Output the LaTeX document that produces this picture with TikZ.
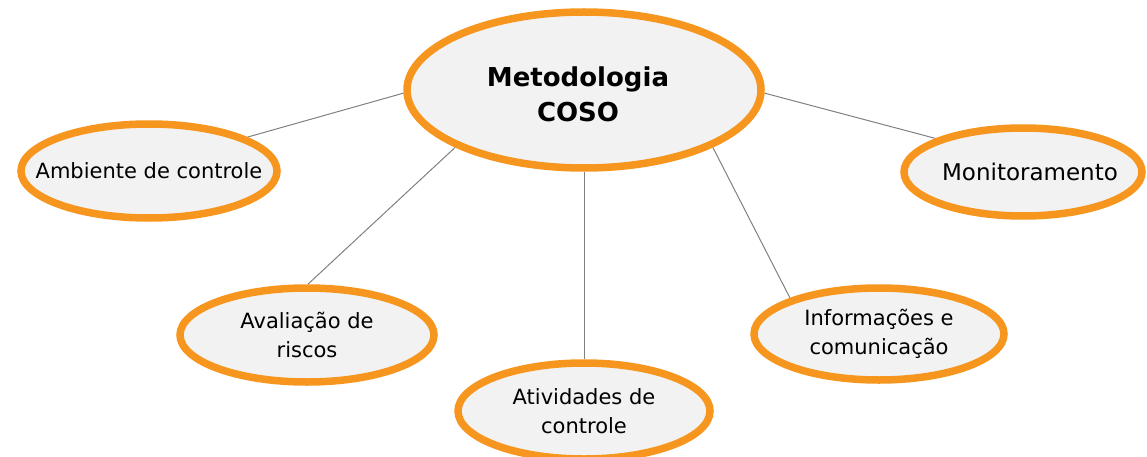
\documentclass[tikz,border=0pt]{standalone}
\usepackage{fontspec}
\setmainfont{DejaVu Sans}
\usetikzlibrary{shapes.geometric}
\pgfdeclarelayer{background}
\pgfsetlayers{background,main}
\definecolor{cosoorange}{HTML}{F7961E}
\definecolor{cosofill}{HTML}{F2F2F2}
\definecolor{cosoline}{HTML}{808080}
\tikzset{
  oval/.style={ellipse, draw=cosoorange, fill=cosofill, line width=7.5pt, inner xsep=-60pt, inner ysep=-25pt,
    align=center, text=black, font=\fontsize{21}{29}\selectfont},
  mainoval/.style={oval, font=\fontsize{26}{35}\selectfont\bfseries},
  link/.style={draw=cosoline, line width=1pt}
}
\begin{document}
\begin{tikzpicture}[x=1pt,y=-1pt]
\useasboundingbox (0,0) rectangle (1147,457);
\node[mainoval, minimum width=354pt, minimum height=156pt] (main) at (584,90) {\rule{0pt}{28pt}Metodologia\kern12pt\\COSO\kern12pt};
\node[oval, minimum width=256pt, minimum height=94pt] (amb) at (149,171) {Ambiente de controle};
\node[oval, minimum width=238pt, minimum height=88pt, font=\fontsize{23}{29}\selectfont] (mon) at (1023,172) {\kern14pt Monitoramento};
\node[oval, minimum width=254pt, minimum height=94pt] (ava) at (307,335) {Avaliação de\\riscos};
\node[oval, minimum width=252pt, minimum height=96pt] (ati) at (584,411) {Atividades de\\controle};
\node[oval, minimum width=250pt, minimum height=92pt] (inf) at (879,334) {Informações e\\comunicação};
\begin{pgfonlayer}{background}
\draw[link] (main.181) -- (amb.19.9);
\draw[link] (main.204) -- (ava.89);
\draw[link] (main.270) -- (ati.90);
\draw[link] (main.336) -- (inf.158.6);
\draw[link] (main.359) -- (mon.159.5);
\end{pgfonlayer}
\end{tikzpicture}
\end{document}
